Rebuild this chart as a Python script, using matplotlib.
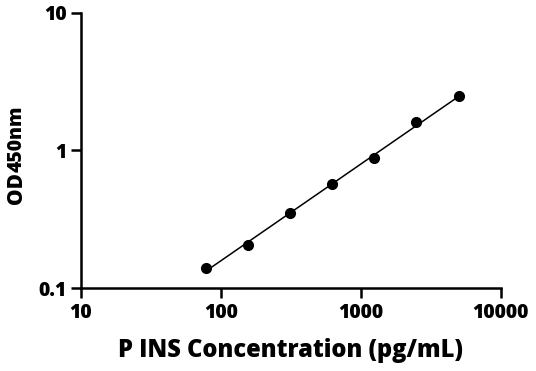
import numpy as np
import matplotlib
matplotlib.use('Agg')
import matplotlib.pyplot as plt
from matplotlib.ticker import FixedLocator, FixedFormatter, NullLocator

# standard curve, P INS
conc = [78.125, 156.25, 312.5, 625, 1250, 2500, 5000]
od = [0.140, 0.206, 0.350, 0.566, 0.889, 1.60, 2.47]

xticks = [10, 100, 1000, 10000]
xlabels = ['10', '100', '1000', '10000']
yticks = [0.1, 1, 10]
ylabels = ['0.1', '1', '10']

W = 800  # extra bold
plt.rcParams['font.family'] = ['Open Sans', 'DejaVu Sans']
plt.rcParams['font.weight'] = W

fig = plt.figure(figsize=(5.36, 3.71), dpi=100)
ax = fig.add_axes([0.1511, 0.2237, 0.934 - 0.1511, 0.965 - 0.2237])

# log-log linear fit
lx = np.log10(conc)
ly = np.log10(od)
p = np.polyfit(lx, ly, 1)
xf = np.linspace(lx[0], lx[-1], 50)
ax.plot(10**xf, 10**np.polyval(p, xf), color='black', lw=1.1)
ax.plot(conc, od, 'o', color='black', ms=7)

ax.set_xscale('log')
ax.set_yscale('log')
ax.set_xlim(10, 10000)
ax.set_ylim(0.1, 10)
ax.xaxis.set_major_locator(FixedLocator(xticks))
ax.xaxis.set_major_formatter(FixedFormatter(xlabels))
ax.yaxis.set_major_locator(FixedLocator(yticks))
ax.yaxis.set_major_formatter(FixedFormatter(ylabels))
ax.xaxis.set_minor_locator(NullLocator())
ax.yaxis.set_minor_locator(NullLocator())

for s in ['top', 'right']:
    ax.spines[s].set_visible(False)
for s in ['left', 'bottom']:
    ax.spines[s].set_linewidth(1.8)
ax.tick_params(direction='out', length=7, width=1.8, labelsize=14, pad=3.5)
for lab in ax.get_xticklabels() + ax.get_yticklabels():
    lab.set_fontweight(W)

ax.set_xlabel('P INS Concentration (pg/mL)', fontsize=17, fontweight=W, labelpad=11)

# y label: OD with smaller 450nm
fx = 22 / 536
fy = 1 - 204 / 371
t1 = fig.text(fx, fy, 'OD', rotation=90, rotation_mode='anchor', ha='left', va='baseline',
              fontsize=15, fontweight=W)
fig.canvas.draw()
bb = t1.get_window_extent(fig.canvas.get_renderer())
fy2 = bb.y1 / fig.bbox.height
fig.text(fx, fy2, '450nm', rotation=90, rotation_mode='anchor', ha='left', va='baseline',
         fontsize=14, fontweight=W)

fig.savefig('out.png', dpi=100)
